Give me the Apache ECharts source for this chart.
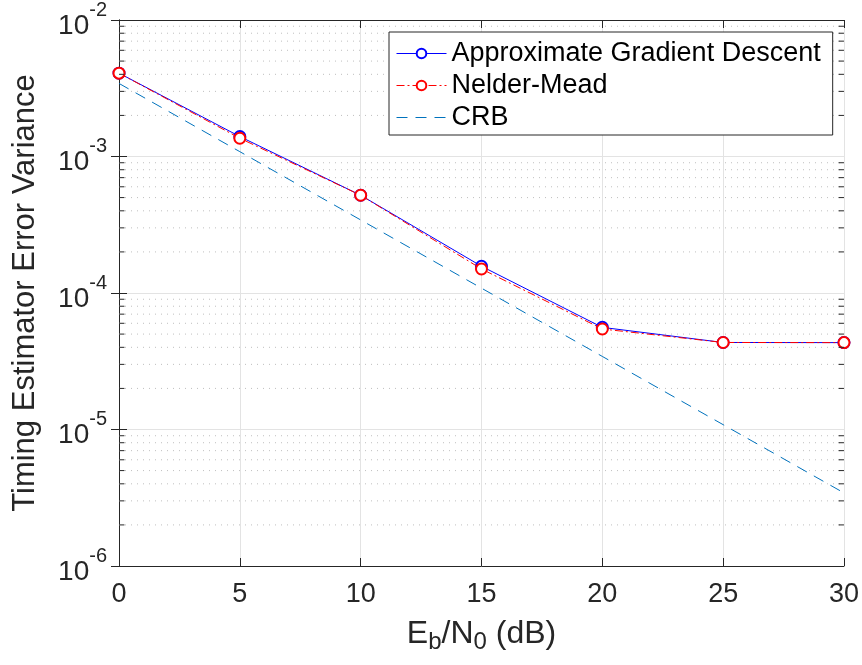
<!DOCTYPE html>
<html>
<head>
<meta charset="utf-8">
<script src="https://cdn.jsdelivr.net/npm/echarts@6/dist/echarts.min.js"></script>
<style>html,body{margin:0;padding:0;background:#fff}#c{width:862px;height:665px}</style>
</head>
<body>
<div id="c"></div>
<script>
var xValues = [0, 5, 10, 15, 20, 25, 30];
var gdValues = [4.08e-3, 1.40e-3, 5.2e-4, 1.57e-4, 5.6e-5, 4.34e-5, 4.33e-5];
var nmValues = [4.08e-3, 1.36e-3, 5.2e-4, 1.50e-4, 5.45e-5, 4.34e-5, 4.33e-5];
var crbValues = [3.43e-3, 1.085e-3, 3.43e-4, 1.085e-4, 3.43e-5, 1.085e-5, 3.43e-6];
var seriesNames = ['Approximate Gradient Descent', 'Nelder-Mead', 'CRB'];
var yExponents = [-6, -5, -4, -3, -2];
var xMin = 0, xMax = 30, xStep = 5;

function pairs(vals) { return xValues.map(function (x, i) { return [x, vals[i]]; }); }

// minor (2..9) positions of the log axis, used for dotted grid and minor ticks
var minorValues = [];
for (var e = yExponents[0]; e < yExponents[yExponents.length - 1]; e++) {
  for (var m = 2; m <= 9; m++) minorValues.push(m * Math.pow(10, e));
}
var gridData = [];
var tickData = [];
var tickLen = (xMax - xMin) * 0.0075;
minorValues.forEach(function (v) {
  gridData.push([xMin, v], [xMax, v], [xMax, '-']);
  tickData.push([xMin, v], [xMin + tickLen, v], [xMin + tickLen, '-']);
  tickData.push([xMax - tickLen, v], [xMax, v], [xMax, '-']);
});

var font = 'Liberation Sans, Arial, Helvetica, sans-serif';
var axisColor = '#262626';
var chart = echarts.init(document.getElementById('c'), null, { renderer: 'canvas' });

var yLabel = function (v) {
  var ex = Math.round(Math.log10(v));
  return '{b|10}{s|' + ex + '}';
};

var yAxisCommon = {
  type: 'log', logBase: 10, min: 1e-6, max: 1e-2,
  axisLine: { show: true, lineStyle: { color: axisColor, width: 1 } },
  axisTick: { show: true, inside: true, length: 8, lineStyle: { color: axisColor } },
  splitLine: { show: false },
  minorTick: { show: false }
};

chart.setOption({
  animation: false,
  backgroundColor: '#ffffff',
  grid: { left: 119, right: 17, top: 19, bottom: 99, containLabel: false },
  legend: {
    orient: 'vertical', left: 389, top: 32,
    backgroundColor: '#ffffff', borderColor: axisColor, borderWidth: 1, borderRadius: 0,
    padding: [8, 12, 4, 7], itemGap: 5, itemWidth: 50, itemHeight: 12,
    textStyle: { fontFamily: font, fontSize: 27, color: '#000' },
    lineStyle: { width: 1 },
    data: [
      { name: seriesNames[0] },
      { name: seriesNames[1] },
      { name: seriesNames[2], itemStyle: { opacity: 0 } }
    ]
  },
  xAxis: [{
    type: 'value', min: xMin, max: xMax, interval: xStep,
    name: '{t|E}{sub|b}{t|/N}{sub|0}{t| (dB)}', nameLocation: 'middle', nameGap: 48,
    nameTextStyle: { rich: {
      t: { fontFamily: font, fontSize: 32, color: axisColor },
      sub: { fontFamily: font, fontSize: 24, color: axisColor, verticalAlign: 'bottom', padding: [16, 0, 0, 0] }
    } },
    axisLine: { show: true, onZero: false, lineStyle: { color: axisColor } },
    axisTick: { show: true, inside: true, length: 8, lineStyle: { color: axisColor } },
    axisLabel: { fontFamily: font, fontSize: 27, color: axisColor, margin: 15 },
    splitLine: { show: true, lineStyle: { color: '#e3e3e3', width: 1 } }
  }, {
    type: 'value', min: xMin, max: xMax, interval: xStep, position: 'top',
    axisLine: { show: true, onZero: false, lineStyle: { color: axisColor } },
    axisTick: { show: true, inside: true, length: 8, lineStyle: { color: axisColor } },
    axisLabel: { show: false }, splitLine: { show: false }
  }],
  yAxis: [Object.assign({}, yAxisCommon, {
    name: 'Timing Estimator Error Variance', nameLocation: 'middle', nameGap: 78,
    nameTextStyle: { fontFamily: font, fontSize: 31, color: axisColor },
    axisLabel: { formatter: yLabel, margin: 12, rich: {
      b: { fontFamily: font, fontSize: 28, color: axisColor, padding: [12, 0, 0, 0] },
      s: { fontFamily: font, fontSize: 20, color: axisColor, verticalAlign: 'top', padding: [0, 0, 0, 0] }
    } },
    splitLine: { show: true, lineStyle: { color: '#e3e3e3', width: 1 } }
  }), Object.assign({}, yAxisCommon, {
    position: 'right', axisLabel: { show: false }
  })],
  series: [{
    name: 'minor-grid', type: 'line', data: gridData, symbol: 'none', silent: true,
    connectNulls: false, z: 1,
    lineStyle: { color: '#bfbfbf', width: 1, type: [1, 5] }
  }, {
    name: 'minor-ticks', type: 'line', data: tickData, symbol: 'none', silent: true,
    connectNulls: false, z: 6,
    lineStyle: { color: axisColor, width: 1 }
  }, {
    name: seriesNames[2], type: 'line', data: pairs(crbValues), showSymbol: false, symbol: 'none',
    lineStyle: { color: '#0072BD', width: 1, type: [11, 8] }, itemStyle: { color: '#0072BD' }, z: 3
  }, {
    name: seriesNames[0], type: 'line', data: pairs(gdValues),
    symbol: 'emptyCircle', symbolSize: 11,
    lineStyle: { color: '#0000ff', width: 1 },
    itemStyle: { color: '#0000ff', borderColor: '#0000ff', borderWidth: 1.5 }, z: 4
  }, {
    name: seriesNames[1], type: 'line', data: pairs(nmValues),
    symbol: 'emptyCircle', symbolSize: 11,
    lineStyle: { color: '#ff0000', width: 1, type: [8, 3, 2, 3] },
    itemStyle: { color: '#ff0000', borderColor: '#ff0000', borderWidth: 1.5 }, z: 5
  }]
});
</script>
</body>
</html>
